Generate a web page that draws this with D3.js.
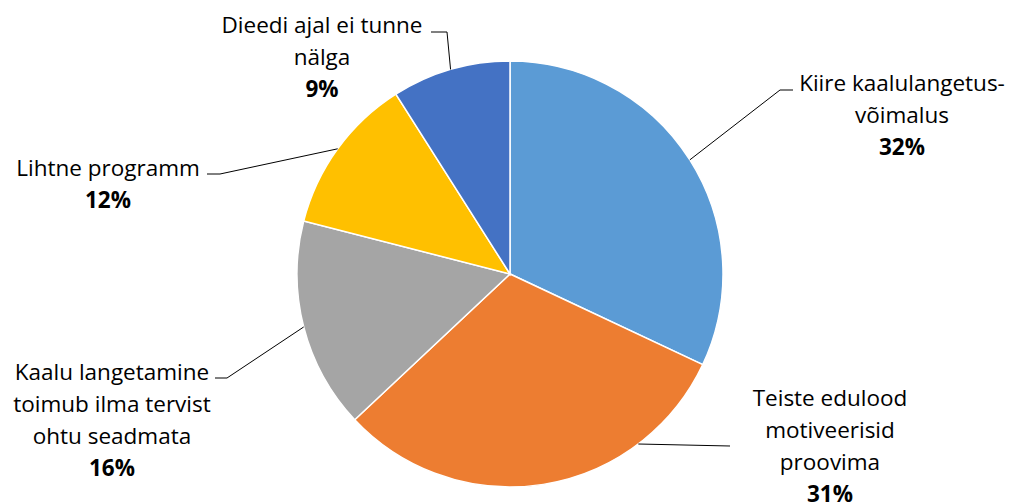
<!DOCTYPE html>
<html><head><meta charset="utf-8">
<script src="https://cdn.jsdelivr.net/npm/d3@7"></script>
<style>body{margin:0;background:#fff}svg{display:block}text{font-family:"Open Sans",Lato,sans-serif;fill:#000}</style>
</head><body>
<svg id="c" width="1014" height="504"></svg>
<script>
const categories = ["Kiire kaalulangetus-võimalus","Teiste edulood motiveerisid proovima","Kaalu langetamine toimub ilma tervist ohtu seadmata","Lihtne programm","Dieedi ajal ei tunne nälga"];
const values = [32,31,16,12,9];
const labelLines = [["Kiire kaalulangetus-","võimalus"],["Teiste edulood","motiveerisid","proovima"],["Kaalu langetamine","toimub ilma tervist","ohtu seadmata"],["Lihtne programm"],["Dieedi ajal ei tunne","nälga"]];
const colors = ["#5B9BD5","#ED7D31","#A5A5A5","#FFC000","#4472C4"];

// layout
const cx = 510, cy = 274, R = 213;
const lineH = 32, fs = 22.5;
const labelLayout = [
  {x:902, y:83, elbow:[780,90], end:[793,90]},
  {x:830, y:398, elbow:[730,446], end:[730,446], horiz:true},
  {x:112, y:372, elbow:[227,378], end:[215,378]},
  {x:108, y:168, elbow:[220,174], end:[207,174]},
  {x:322, y:25, elbow:[447,32], end:[431,32]}
];

const svg = d3.select("#c");
const pie = d3.pie().sort(null).value(d=>d)(values);
const arc = d3.arc().innerRadius(0).outerRadius(R);
const g = svg.append("g").attr("transform",`translate(${cx},${cy})`);
g.selectAll("path").data(pie).join("path")
  .attr("d",arc).attr("fill",(d,i)=>colors[i])
  .attr("stroke","#fff").attr("stroke-width",1.5);

pie.forEach((d,i)=>{
  const L = labelLayout[i];
  let sx, sy;
  if (L.horiz) {
    const dy = L.elbow[1]-2-cy;
    sy = cy+dy; sx = cx+Math.sqrt(R*R-dy*dy);
  } else {
    const a = (d.startAngle+d.endAngle)/2;
    sx = cx + R*Math.sin(a); sy = cy - R*Math.cos(a);
  }
  svg.append("polyline")
    .attr("points",[[sx,sy],L.elbow,L.end].map(p=>p.join(",")).join(" "))
    .attr("fill","none").attr("stroke","#000").attr("stroke-width",1);
  const t = svg.append("text").attr("text-anchor","middle").attr("font-size",fs);
  const lines = labelLines[i];
  lines.forEach((ln,k)=>{
    t.append("tspan").attr("x",L.x).attr("y",L.y+k*lineH).attr("dy","0.35em").text(ln);
  });
  t.append("tspan").attr("x",L.x).attr("y",L.y+lines.length*lineH).attr("dy","0.35em")
    .attr("font-weight","bold").text(d3.format(".0%")(values[i]/d3.sum(values)));
});
</script>
</body></html>
